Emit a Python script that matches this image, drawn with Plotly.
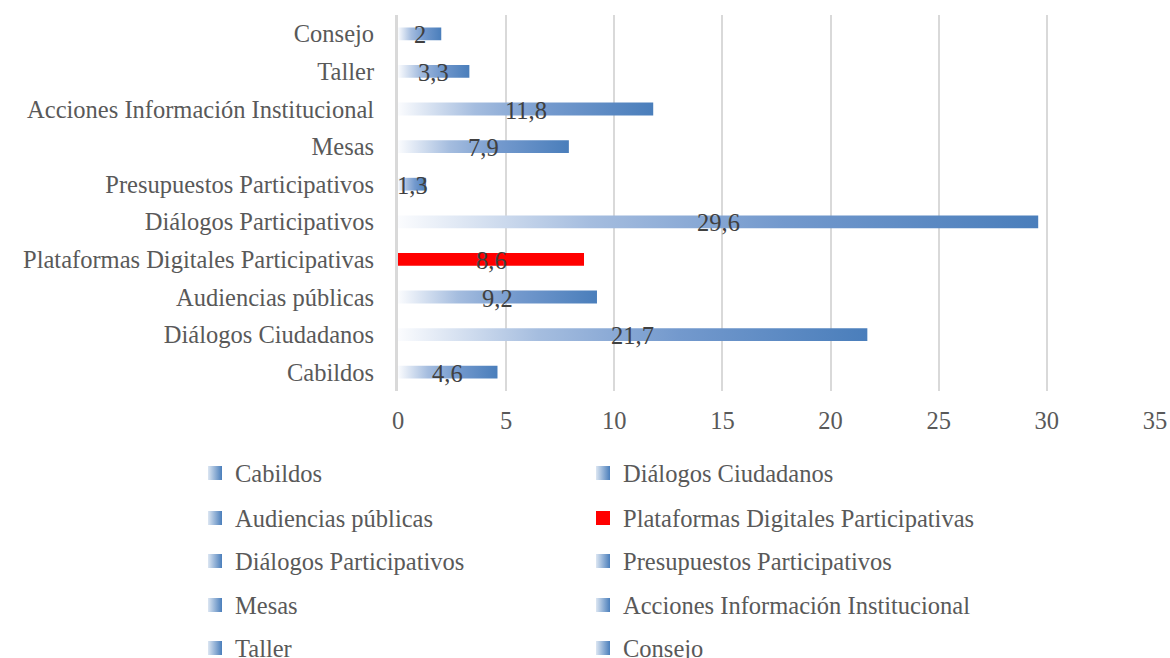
import plotly.graph_objects as go

# datos
categorias = [
    "Cabildos",
    "Diálogos Ciudadanos",
    "Audiencias públicas",
    "Plataformas Digitales Participativas",
    "Diálogos Participativos",
    "Presupuestos Participativos",
    "Mesas",
    "Acciones Información Institucional",
    "Taller",
    "Consejo",
]
valores = [4.6, 21.7, 9.2, 8.6, 29.6, 1.3, 7.9, 11.8, 3.3, 2]
destacado = "Plataformas Digitales Participativas"
ticks_x = [0, 5, 10, 15, 20, 25, 30, 35]

FONT = "Liberation Serif"
SIZE = 24.5
GRIS = "#595959"
ROJO = "#ff0000"
AZUL = "#4a7ebb"
GRADIENTE = [[0, "#fbfcfe"], [0.3, "#a5bddf"], [0.6, "#7399cd"], [1, AZUL]]
MEDIO_ALTO = 0.17  # half bar thickness in category units
W, H = 1170, 658

fig = go.Figure()

# bars drawn as filled shapes so each can carry its own horizontal gradient
for i, (cat, v) in enumerate(zip(categorias, valores)):
    estilo = dict(fillcolor=ROJO) if cat == destacado else dict(
        fillgradient=dict(type="horizontal", colorscale=GRADIENTE)
    )
    fig.add_trace(
        go.Scatter(
            x=[0, v, v, 0, 0],
            y=[i - MEDIO_ALTO, i - MEDIO_ALTO, i + MEDIO_ALTO, i + MEDIO_ALTO, i - MEDIO_ALTO],
            fill="toself",
            mode="lines",
            line=dict(width=0),
            showlegend=False,
            hoverinfo="skip",
            **estilo,
        )
    )

# legend: two columns, one small legend per entry
filas_y = [473, 518, 561, 605, 648]
columnas_x = [195, 583]
leyendas = {}
for i, cat in enumerate(categorias):
    clave = "legend" if i == 0 else f"legend{i + 1}"
    if cat == destacado:
        marcador = dict(symbol="square", size=14, color=ROJO)
    else:
        marcador = dict(symbol="square", size=14, color="#dce6f2",
                        gradient=dict(type="horizontal", color=AZUL))
    fig.add_trace(
        go.Scatter(x=[None], y=[None], mode="markers", name=cat,
                   marker=marcador, legend=clave)
    )
    leyendas[clave] = dict(
        xref="container", yref="container",
        x=columnas_x[i % 2] / W, y=1 - filas_y[i // 2] / H,
        xanchor="left", yanchor="middle",
        font=dict(family=FONT, size=SIZE, color=GRIS),
        bgcolor="rgba(0,0,0,0)",
    )

# data labels
for i, v in enumerate(valores):
    fig.add_annotation(
        x=v / 2, y=i, text=f"{v:g}".replace(".", ","), showarrow=False,
        yshift=-1, font=dict(family=FONT, size=SIZE, color="#404040"),
    )

fig.update_layout(
    width=W, height=H,
    margin=dict(l=398, r=15, t=15, b=H - 391, autoexpand=False),
    plot_bgcolor="white", paper_bgcolor="white",
    font=dict(family=FONT, size=SIZE, color=GRIS),
    **leyendas,
)
fig.update_xaxes(
    range=[0, 35], tickvals=ticks_x, showgrid=True, gridcolor="#d9d9d9", gridwidth=1.5,
    zeroline=False, showline=False, ticks="", ticklabelstandoff=12, automargin=False,
    tickfont=dict(family=FONT, size=SIZE, color=GRIS),
)
fig.update_yaxes(
    range=[-0.5, 9.5], tickvals=list(range(len(categorias))), ticktext=categorias,
    showgrid=False, zeroline=False, showline=True, linecolor="#d9d9d9", linewidth=3,
    ticks="", ticklabelstandoff=16, automargin=False,
    tickfont=dict(family=FONT, size=SIZE, color=GRIS),
)

# drop the default page margin so the figure fills the window exactly
fig.write_html(
    "out.html",
    config={"displayModeBar": False},
    post_script="document.body.style.margin = '0';",
)
